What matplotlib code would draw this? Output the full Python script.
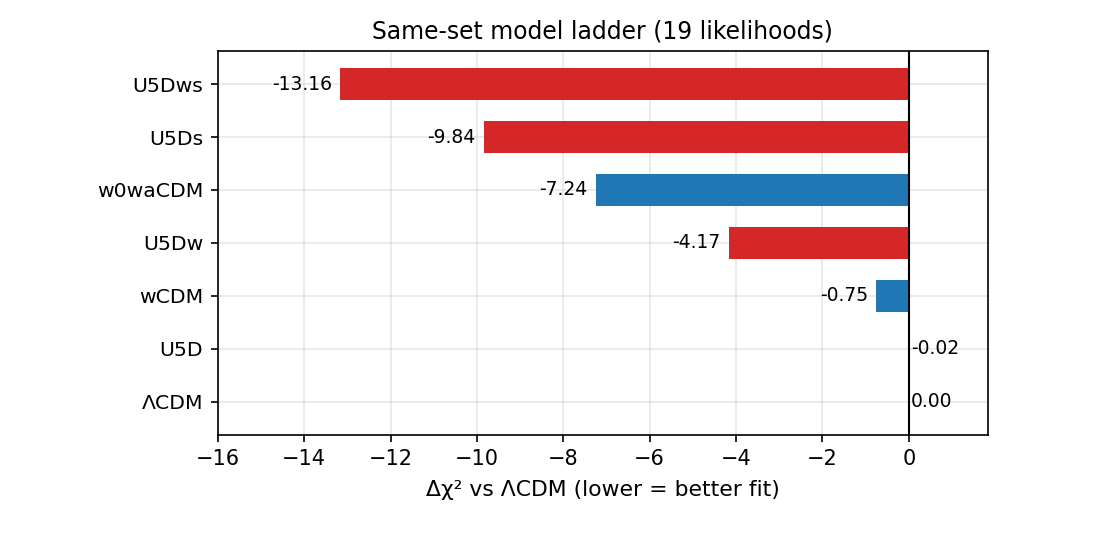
import matplotlib
matplotlib.use("Agg")
import matplotlib.pyplot as plt
import numpy as np

# model ladder, top to bottom as drawn
models = ["U5Dws", "U5Ds", "w0waCDM", "U5Dw", "wCDM", "U5D", "ΛCDM"]
dchi2 = [-13.16, -9.84, -7.24, -4.17, -0.75, -0.02, 0.00]
colors = ["#d62728", "#d62728", "#1f77b4", "#d62728", "#1f77b4", "#d62728", "#7f7f7f"]

fig = plt.figure(figsize=(1100 / 150, 547 / 150), dpi=150)
ax = fig.add_axes([0.198, 0.205, 0.700, 0.702])

y = np.arange(len(models))[::-1]
ax.barh(y, dchi2, height=0.6, color=colors)
ax.axvline(0, color="black", linewidth=1)

for yi, v in zip(y, dchi2):
    if v < -0.5:
        ax.annotate(f"{v:.2f}", (v, yi), xytext=(-4, 0), textcoords="offset points",
                    ha="right", va="center", fontsize=9)
    else:
        ax.annotate(f"{v:.2f}", (0, yi), xytext=(1, 0), textcoords="offset points",
                    ha="left", va="center", fontsize=9)

ax.set_yticks(y)
ax.set_yticklabels(models)
ax.tick_params(axis="y", labelsize=9.8)
ax.set_xlim(-16, 1.83)
ax.set_xticks(np.arange(-16, 1, 2))
ax.grid(True, alpha=0.3)
ax.set_axisbelow(True)
ax.set_xlabel("Δχ² vs ΛCDM (lower = better fit)", fontsize=10.5, labelpad=5)
ax.set_title("Same-set model ladder (19 likelihoods)", fontsize=11.3)

fig.savefig("out.png", dpi=150)
